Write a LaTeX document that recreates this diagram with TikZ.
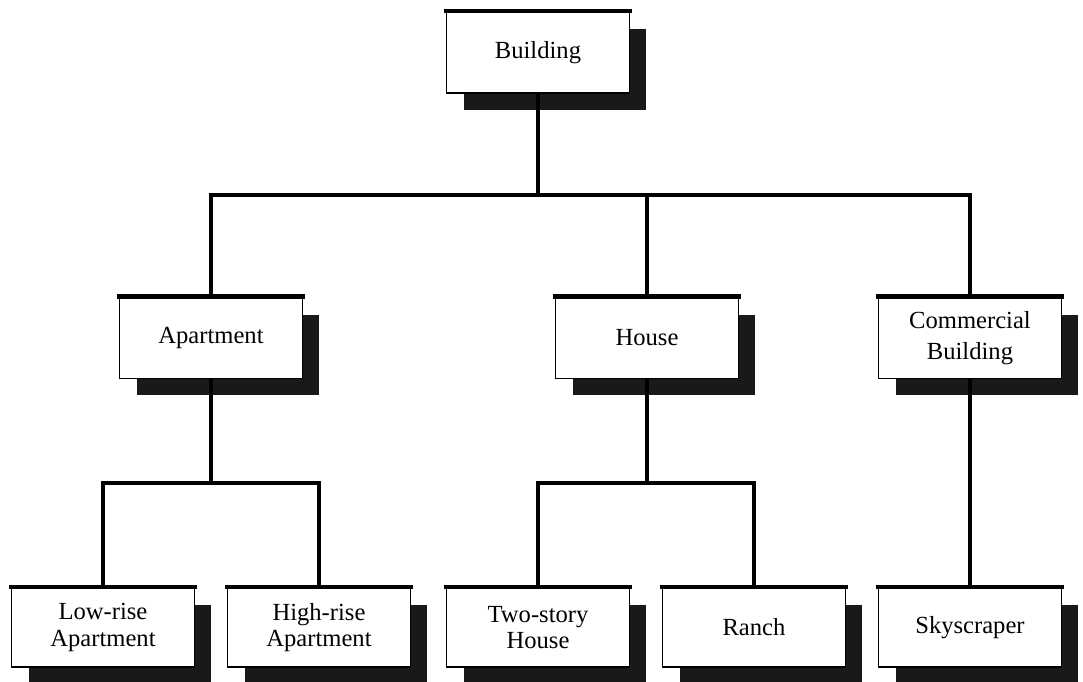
\documentclass[tikz,border=0pt]{standalone}
\usepackage{fontspec}
\setmainfont{Liberation Serif}
\usetikzlibrary{shadows}

\begin{document}
\begin{tikzpicture}[x=0.02cm,y=-0.02cm,
box/.style={draw=black,line width=1.1pt,fill=white,minimum width=3.66cm,minimum height=1.62cm,align=center,inner sep=2pt,font=\fontsize{14}{15}\selectfont,drop shadow={shadow xshift=0.34cm,shadow yshift=-0.34cm,fill=black!90,opacity=1}},
leaf/.style={box,minimum height=1.58cm},
link/.style={line width=1.9pt},
bar/.style={line width=2.2pt},
topbar/.style={line width=2.5pt}]

\useasboundingbox (0,0) rectangle (1083,681);

\node (bld) at (538,52.5) [box] {Building};

\node (apt) at (211,338) [box] {Apartment};
\node (hse) at (647,338) [box] {House};
\node (com) at (970,338) [box] {Commercial\\[3pt]Building};

\node (low) at (103,627.5) [leaf] {Low-rise\\Apartment};
\node (high) at (319,627.5) [leaf] {High-rise\\Apartment};
\node (two) at (538,627.5) [leaf] {Two-story\\House};
\node (ran) at (754,627.5) [leaf] {Ranch};
\node (sky) at (970,627.5) [leaf] {Skyscraper};

\foreach \n in {bld,apt,hse,com,low,high,two,ran,sky}
  \draw [topbar] ([xshift=-1pt]\n.north west) -- ([xshift=1pt]\n.north east);

\coordinate (j0) at (538,195);
\coordinate (j1) at (211,483);
\coordinate (j2) at (647,483);

\draw [link] (bld.south) -- (j0);
\draw [link] (apt.north) |- (j0) -| (com.north);
\draw [link] (j0) -| (hse.north);

\draw [link] (apt.south) -- (j1);
\draw [bar] (low.north) |- (j1) -| (high.north);
\draw [link] (hse.south) -- (j2);
\draw [bar] (two.north) |- (j2) -| (ran.north);
\draw [link] (com.south) -- (sky.north);

\end{tikzpicture}
\end{document}
